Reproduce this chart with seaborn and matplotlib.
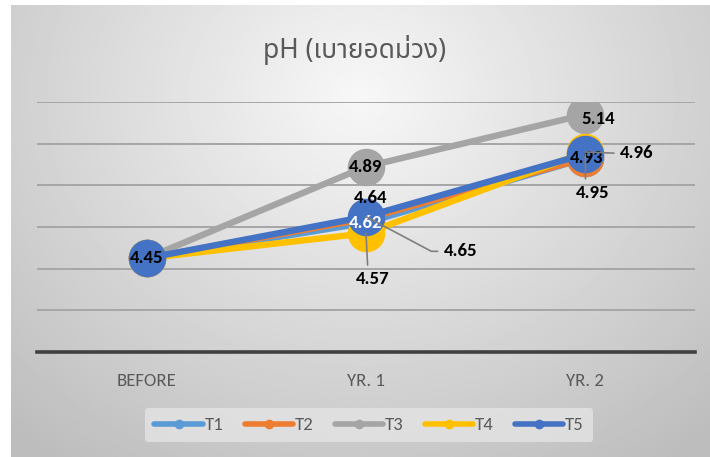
import numpy as np
import pandas as pd
import matplotlib
matplotlib.use("Agg")
import matplotlib.pyplot as plt
from matplotlib.lines import Line2D
from matplotlib import font_manager
import seaborn as sns

# ---- data -------------------------------------------------------------
stages = ["BEFORE", "YR. 1", "YR. 2"]
series_names = ["T1", "T2", "T3", "T4", "T5"]
t1 = [4.45, 4.62, 4.93]
t2 = [4.45, 4.64, 4.93]
t3 = [4.45, 4.89, 5.14]
t4 = [4.45, 4.57, 4.96]
t5 = [4.45, 4.65, 4.95]
colors = ["#5B9BD5", "#ED7D31", "#A5A5A5", "#FFC000", "#4472C4"]
title_text = "pH (เบายอดม่วง)"

values = [t1, t2, t3, t4, t5]
df = pd.DataFrame(
    [(s, st, v) for s, vals in zip(series_names, values) for st, v in zip(stages, vals)],
    columns=["series", "stage", "pH"],
)

# ---- fonts ------------------------------------------------------------
names = {f.name for f in font_manager.fontManager.ttflist}

def pick(cands, fallback="DejaVu Sans"):
    for c in cands:
        if c in names:
            return c
    return fallback

label_font = pick(["Carlito", "Lato"])
cat_font = pick(["Carlito", "Archivo Narrow", "Asap Condensed"])
thai_font = pick(["Noto Sans Thai", "IBM Plex Sans Thai", "Anuphan"])
latin_title = pick(["Noto Sans", "Open Sans"])

sns.set_theme(style="white")
plt.rcParams["font.family"] = [label_font, "DejaVu Sans"]

W, H, DPI = 710, 457, 100
fig = plt.figure(figsize=(W / DPI, H / DPI), dpi=DPI, facecolor="white")

# chart-area background: soft radial gray gradient
bg = fig.add_axes([11 / W, 0, 1 - 11 / W, 1 - 5 / H], zorder=-10)
yy, xx = np.mgrid[0:1:300j, 0:1:460j]
r = np.sqrt(((xx - 0.5) / 0.75) ** 2 + ((yy - 0.2) / 1.0) ** 2)
shade = np.clip(0.97 - 0.23 * r, 0.74, 1.0)
bg.imshow(shade, cmap="gray", vmin=0, vmax=1, aspect="auto", extent=(0, 1, 1, 0))
bg.set_axis_off()

ax = fig.add_axes([37 / W, (H - 352) / H, 658 / W, 250 / H])
ax.patch.set_alpha(0)

sns.lineplot(data=df, x="stage", y="pH", hue="series", palette=colors,
             sort=False, marker="o", markersize=27, markeredgewidth=0,
             linewidth=4.6, legend=False, ax=ax)

ax.set_xlim(-0.5, 2.5)
ax.set_ylim(4.0, 5.2)
ax.set_yticks(np.arange(4.0, 5.21, 0.2))
ax.yaxis.grid(True, color="#a6a6a6", linewidth=1.4)
ax.set_axisbelow(True)
ax.tick_params(axis="y", left=False, labelleft=False)
ax.tick_params(axis="x", bottom=False, pad=9, labelsize=13.5, labelcolor="#595959")
for lab in ax.get_xticklabels():
    lab.set_family([cat_font, "DejaVu Sans"])
ax.set_xlabel("")
ax.set_ylabel("")
for side in ["left", "right", "top"]:
    ax.spines[side].set_visible(False)
ax.spines["bottom"].set_color("#404040")
ax.spines["bottom"].set_linewidth(2.6)

# ---- data labels ------------------------------------------------------
lab_kw = dict(fontsize=13.5, fontweight="bold", ha="center", va="center", zorder=20)
lead = dict(arrowstyle="-", color="#7f7f7f", lw=1.2, shrinkA=2, shrinkB=0)

def put(xi, val, dx=0, dy=0, color="black", arrow=None):
    kw = dict(lab_kw)
    if arrow is not None:
        kw["arrowprops"] = arrow
    ax.annotate(f"{val:.2f}", (xi, val), xytext=(dx, dy), textcoords="offset points",
                color=color, **kw)

put(0, t5[0])
put(1, t3[1])
put(1, t2[1], 3, 15)
put(1, t1[1], color="white")
put(1, t5[1], 68, -25,
    arrow=dict(lead, relpos=(0, 0.5), connectionstyle="angle,angleA=0,angleB=-28,rad=0"))
put(1, t4[1], 5, -33, arrow=dict(lead, relpos=(0.35, 1.0)))
put(2, t3[2], 9, -3)
put(2, t1[2], 1, 0)
put(2, t4[2], 37, -1, arrow=dict(lead, relpos=(0, 0.5)))
put(2, t5[2], 5, -28, arrow=dict(lead, relpos=(0.3, 1.0)))

# ---- title ------------------------------------------------------------
fig.text(0.5, 1 - 50 / H, title_text, ha="center", va="center", fontsize=19,
         color="#595959", family=[latin_title, thai_font, "DejaVu Sans"])

# ---- legend -----------------------------------------------------------
handles = [Line2D([0], [0], color=c, lw=4, marker="o", markersize=7, markeredgewidth=0)
           for c in colors]
leg = fig.legend(handles, series_names, loc="center", bbox_to_anchor=(0.52, 1 - 425 / H),
                 ncol=5, frameon=True, fontsize=13.5, handlelength=2.6, columnspacing=1.1,
                 handletextpad=0.1, borderpad=0.5)
leg.get_frame().set_facecolor("#e4e4e4")
leg.get_frame().set_edgecolor("none")
leg.get_frame().set_alpha(0.8)
for t in leg.get_texts():
    t.set_color("#595959")
    t.set_family([cat_font, "DejaVu Sans"])

fig.savefig("out.png", dpi=DPI, facecolor="white")
